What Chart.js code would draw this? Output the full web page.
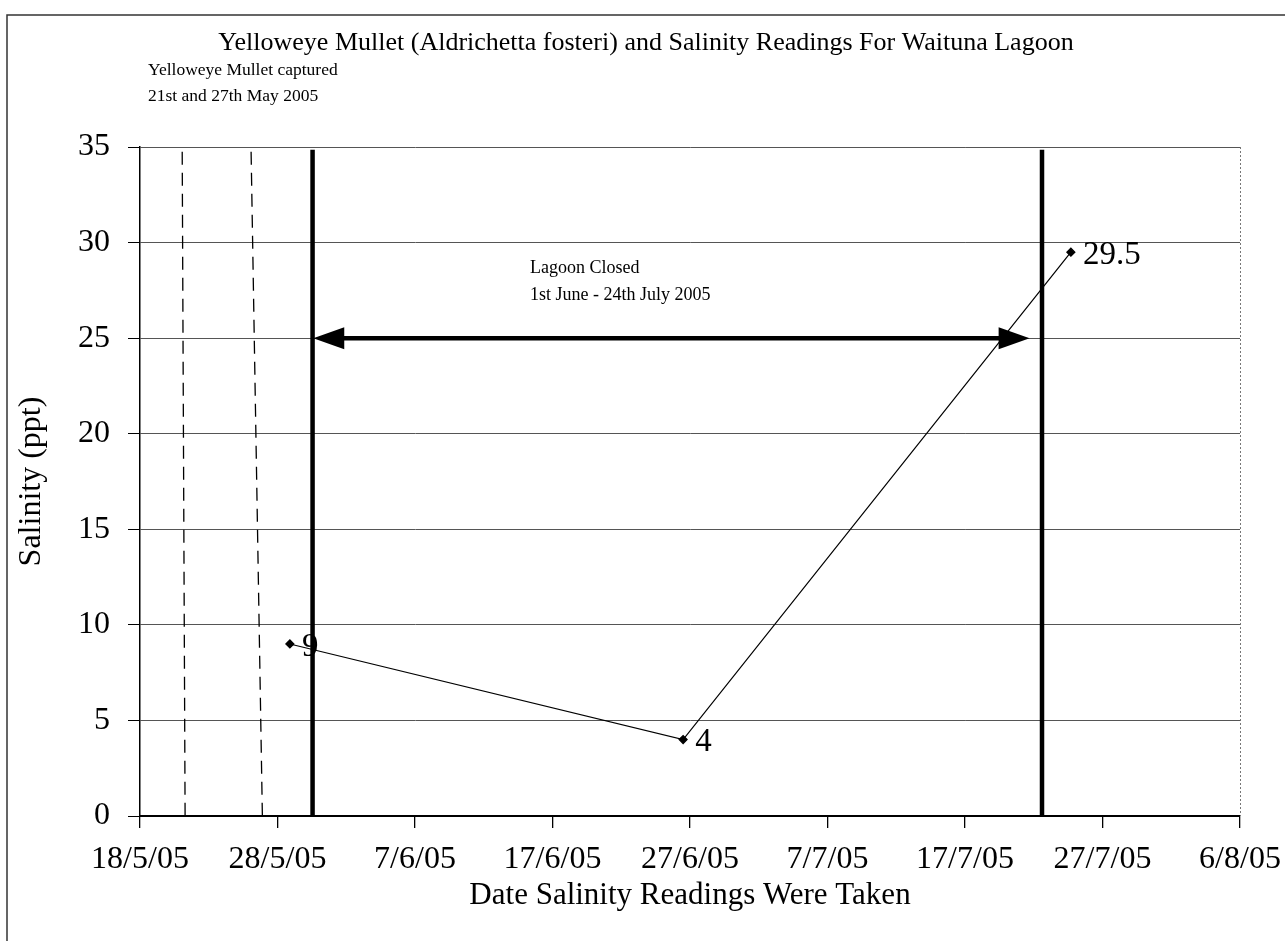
<!DOCTYPE html>
<html>
<head>
<meta charset="utf-8">
<script src="https://cdn.jsdelivr.net/npm/chart.js@4.4.0/dist/chart.umd.min.js"></script>
<style>
html,body{margin:0;padding:0;background:#fff;}
#wrap{width:1285px;height:941px;}
</style>
</head>
<body>
<div id="wrap"><canvas id="c" width="1285" height="941"></canvas></div>
<script>
// ---- data ----
const tickLabels = ['18/5/05','28/5/05','7/6/05','17/6/05','27/6/05','7/7/05','17/7/05','27/7/05','6/8/05'];
const readingDays = [10.9, 39.5, 67.7];          // days after 18/5/05
const salinity = [9, 4, 29.5];
const salinityLabels = ['9', '4', '29.5'];
const captureLineTop = [3.07, 8.08];             // dashed lines, x at top
const captureLineBottom = [3.28, 8.9];           // dashed lines, x at bottom
const closedLines = [12.55, 65.6];               // thick solid lines
const arrowFrom = 12.6, arrowTo = 64.7, arrowLevel = 25;
const yTicks = [0, 5, 10, 15, 20, 25, 30, 35];

const titleText = 'Yelloweye Mullet (Aldrichetta fosteri) and Salinity Readings For Waituna Lagoon';
const noteCapture = ['Yelloweye Mullet captured', '21st and 27th May 2005'];
const noteClosed = ['Lagoon Closed', '1st June - 24th July 2005'];

const SERIF = '"Liberation Serif", "Times New Roman", serif';

const datasets = [];
datasets.push({
  label: 'Salinity',
  data: readingDays.map((d, i) => ({x: d, y: salinity[i]})),
  borderColor: '#000', backgroundColor: '#000', borderWidth: 1.2,
  pointStyle: 'rectRot', pointRadius: 4, pointHoverRadius: 4, tension: 0, order: 0
});
captureLineTop.forEach((t, i) => {
  datasets.push({
    label: 'capture' + i,
    data: [{x: t, y: 34.75}, {x: captureLineBottom[i], y: 0}],
    borderColor: '#000', borderWidth: 1.3, borderDash: [13, 8],
    pointRadius: 0, pointHoverRadius: 0, order: 2
  });
});
closedLines.forEach((t, i) => {
  datasets.push({
    label: 'closed' + i,
    data: [{x: t, y: 34.85}, {x: t, y: -0.3}],
    borderColor: '#000', borderWidth: 4.5,
    pointRadius: 0, pointHoverRadius: 0, order: 1
  });
});
datasets.push({
  label: 'arrow',
  data: [{x: arrowFrom + 1.5, y: arrowLevel}, {x: arrowTo - 1.5, y: arrowLevel}],
  borderColor: '#000', borderWidth: 4.5,
  pointRadius: 0, pointHoverRadius: 0, order: 1
});

const decor = {
  id: 'decor',
  beforeDraw(chart) {
    const ctx = chart.ctx;
    ctx.save();
    ctx.fillStyle = '#fff';
    ctx.fillRect(0, 0, chart.width, chart.height);
    ctx.strokeStyle = '#333';
    ctx.lineWidth = 1.5;
    ctx.beginPath();
    ctx.moveTo(7, 941); ctx.lineTo(7, 15); ctx.lineTo(1285, 15);
    ctx.stroke();
    ctx.fillStyle = '#000';
    ctx.textBaseline = 'middle';
    ctx.textAlign = 'center';
    ctx.font = '26px ' + SERIF;
    ctx.fillText(titleText, 646, 43);
    ctx.textAlign = 'left';
    ctx.font = '17.5px ' + SERIF;
    ctx.fillText(noteCapture[0], 148, 70);
    ctx.fillText(noteCapture[1], 148, 96);
    ctx.restore();
  },
  afterDatasetsDraw(chart) {
    const ctx = chart.ctx;
    const xs = chart.scales.x, ys = chart.scales.y;
    const a = chart.chartArea;
    ctx.save();
    // right border dotted
    ctx.strokeStyle = '#777';
    ctx.lineWidth = 1;
    ctx.setLineDash([2, 2]);
    ctx.beginPath();
    ctx.moveTo(a.right + 0.5, a.top); ctx.lineTo(a.right + 0.5, a.bottom);
    ctx.stroke();
    ctx.setLineDash([]);
    // arrowheads
    const yA = ys.getPixelForValue(arrowLevel);
    const xL = xs.getPixelForValue(arrowFrom), xR = xs.getPixelForValue(arrowTo);
    ctx.fillStyle = '#000';
    ctx.beginPath();
    ctx.moveTo(xL, yA); ctx.lineTo(xL + 31, yA - 11); ctx.lineTo(xL + 31, yA + 11); ctx.closePath();
    ctx.fill();
    ctx.beginPath();
    ctx.moveTo(xR, yA); ctx.lineTo(xR - 31, yA - 11); ctx.lineTo(xR - 31, yA + 11); ctx.closePath();
    ctx.fill();
    // closed note
    ctx.textBaseline = 'middle';
    ctx.textAlign = 'left';
    ctx.font = '18px ' + SERIF;
    ctx.fillText(noteClosed[0], 530, 268);
    ctx.fillText(noteClosed[1], 530, 295);
    // data labels
    ctx.font = '33px ' + SERIF;
    readingDays.forEach((d, i) => {
      const px = xs.getPixelForValue(d), py = ys.getPixelForValue(salinity[i]);
      ctx.fillText(salinityLabels[i], px + 12, py + 3);
    });
    ctx.restore();
  }
};

new Chart(document.getElementById('c'), {
  type: 'line',
  data: {datasets},
  plugins: [decor],
  options: {
    responsive: false,
    animation: false,
    devicePixelRatio: 1,
    layout: {padding: {left: 12, right: 45, top: 147, bottom: 27}},
    plugins: {legend: {display: false}, tooltip: {enabled: false}, title: {display: false}},
    elements: {line: {tension: 0}},
    scales: {
      x: {
        type: 'linear', min: 0, max: 80,
        afterBuildTicks(s) { s.ticks = tickLabels.map((_, i) => ({value: i * 10})); },
        afterFit(s) { s.height = 941 - 27 - 816; s.paddingLeft = 0; s.paddingRight = 0; },
        ticks: {
          color: '#000', font: {family: SERIF, size: 32}, padding: 12, maxRotation: 0, autoSkip: false,
          callback: (v) => tickLabels[Math.round(v / 10)]
        },
        grid: {drawOnChartArea: false, drawTicks: true, tickLength: 12, color: '#000', lineWidth: 1.3},
        border: {color: '#000', width: 2},
        title: {display: true, text: 'Date Salinity Readings Were Taken', color: '#000',
                font: {family: SERIF, size: 31}, padding: {top: 0, bottom: 0}}
      },
      y: {
        type: 'linear', min: 0, max: 35,
        afterBuildTicks(s) { s.ticks = yTicks.map(v => ({value: v})); },
        afterFit(s) { s.width = 140 - 12; s.paddingTop = 0; s.paddingBottom = 0; },
        ticks: {color: '#000', font: {family: SERIF, size: 32}, padding: 18},
        grid: {color: '#555', lineWidth: 1, tickLength: 12, tickColor: '#000'},
        border: {color: '#000', width: 1.5},
        title: {display: true, text: 'Salinity (ppt)', color: '#000',
                font: {family: SERIF, size: 32}, padding: {top: 0, bottom: 4}}
      }
    }
  }
});
</script>
</body>
</html>
